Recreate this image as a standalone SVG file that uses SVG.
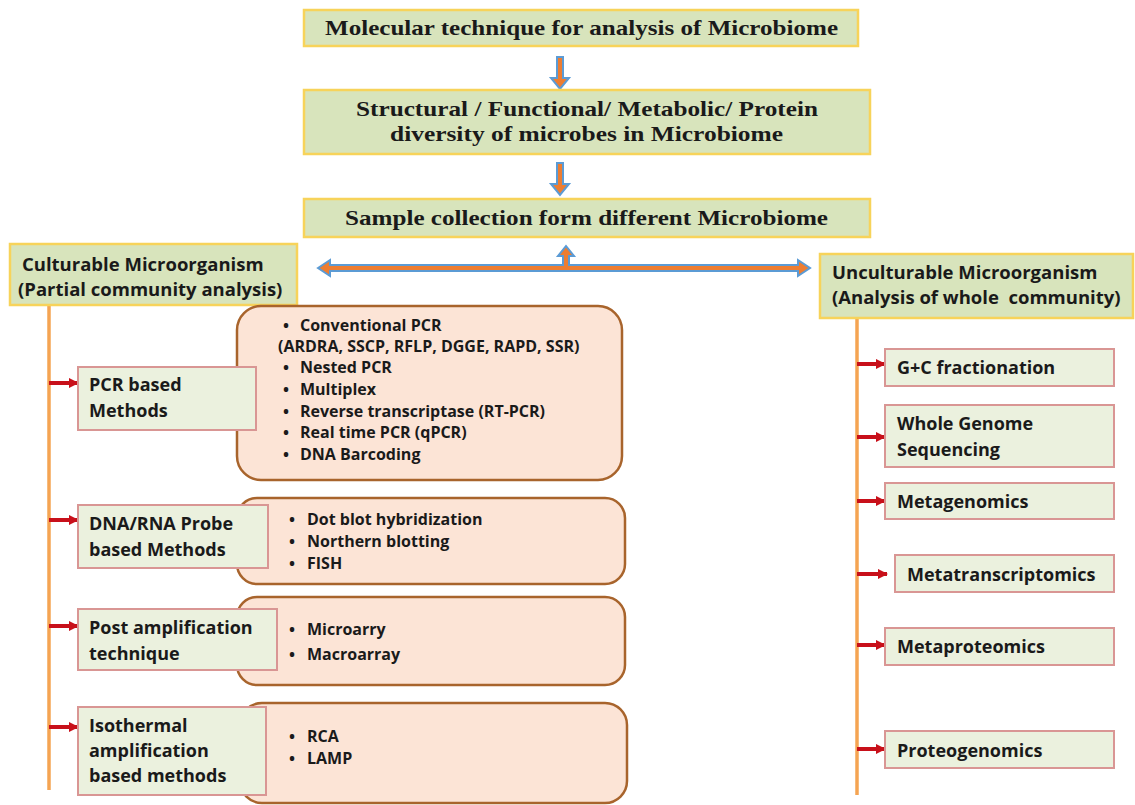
<svg xmlns="http://www.w3.org/2000/svg" width="1135" height="805" viewBox="0 0 1135 805">
<defs>
<style>
.top{fill:#d8e4bc;stroke:#f7d35a;stroke-width:2.5}
.cat{fill:#d8e4bc;stroke:#f7d35a;stroke-width:2.5}
.meth{fill:#ebf1de;stroke:#d99694;stroke-width:2}
.list{fill:#fce4d6;stroke:#a8642c;stroke-width:2.5}
.ttl{font-family:"Liberation Serif",serif;font-weight:bold;font-size:21px;fill:#1a1a1a;text-anchor:middle}
.lbl{font-family:"Open Sans","Liberation Sans",sans-serif;font-weight:bold;font-size:18px;fill:#1a1a1a}
.cl{font-size:18.5px}
.itm{font-family:"Open Sans","Liberation Sans",sans-serif;font-weight:bold;font-size:16px;fill:#1a1a1a}
.trunk{stroke:#f5a452;stroke-width:3.5;fill:none}
.red{stroke:#c8101a;stroke-width:4;fill:none;marker-end:url(#rh)}
.big{fill:#ed7d31;stroke:#5b9bd5;stroke-width:2;stroke-linejoin:miter}
</style>
<marker id="rh" viewBox="0 0 10 10" refX="9" refY="5" markerWidth="2.6" markerHeight="2.6" orient="auto" markerUnits="strokeWidth">
<path d="M0,0 L10,5 L0,10 Z" fill="#c8101a"/>
</marker>
</defs>
<rect width="1135" height="805" fill="#ffffff"/>

<g id="connectors">
<path class="big" d="M557,57 L563,57 L563,78 L569,78 L560,89 L551,78 L557,78 Z"/>
<path class="big" d="M557,163 L563,163 L563,184 L569,184 L560,195 L551,184 L557,184 Z"/>
<path class="big" d="M318,268 L330,260 L330,265 L563,265 L563,256 L558,256 L566,246 L574,256 L569,256 L569,265 L798,265 L798,260 L810,268 L798,276 L798,271 L330,271 L330,276 Z"/>
<line class="trunk" x1="49" y1="305" x2="49" y2="790"/>
<line class="trunk" x1="857" y1="318" x2="857" y2="795"/>
<line class="red" x1="49" y1="383" x2="78" y2="383"/>
<line class="red" x1="49" y1="520" x2="78" y2="520"/>
<line class="red" x1="49" y1="626" x2="78" y2="626"/>
<line class="red" x1="49" y1="727" x2="78" y2="727"/>
<line class="red" x1="857" y1="364" x2="885" y2="364"/>
<line class="red" x1="857" y1="437" x2="885" y2="437"/>
<line class="red" x1="857" y1="501" x2="885" y2="501"/>
<line class="red" x1="857" y1="574" x2="887" y2="574"/>
<line class="red" x1="857" y1="645" x2="885" y2="645"/>
<line class="red" x1="857" y1="749" x2="885" y2="749"/>
</g>

<g id="n-molecular">
<rect class="top" x="304" y="10" width="554" height="36"/>
<text class="ttl" x="581.5" y="35" textLength="513" lengthAdjust="spacingAndGlyphs">Molecular technique for analysis of Microbiome</text>
</g>
<g id="n-diversity">
<rect class="top" x="304" y="90" width="566" height="64"/>
<text class="ttl" x="587" y="116" textLength="462" lengthAdjust="spacingAndGlyphs">Structural / Functional/ Metabolic/ Protein</text>
<text class="ttl" x="586.5" y="141" textLength="393" lengthAdjust="spacingAndGlyphs">diversity of microbes in Microbiome</text>
</g>
<g id="n-sample">
<rect class="top" x="304" y="199" width="566" height="38"/>
<text class="ttl" x="586.5" y="225" textLength="483" lengthAdjust="spacingAndGlyphs">Sample collection form different Microbiome</text>
</g>

<g id="n-culturable">
<rect class="cat" x="10" y="244" width="287" height="61"/>
<text class="lbl cl" x="22" y="271">Culturable Microorganism</text>
<text class="lbl cl" x="18" y="296">(Partial community analysis)</text>
</g>
<g id="n-unculturable">
<rect class="cat" x="820" y="254" width="313" height="64"/>
<text class="lbl cl" x="832" y="279">Unculturable Microorganism</text>
<text class="lbl cl" x="832" y="304" xml:space="preserve">(Analysis of whole  community)</text>
</g>

<g id="n-pcr-list">
<rect class="list" x="237" y="306" width="385" height="174" rx="24"/>
<g class="itm">
<text x="283" y="331">•</text><text x="300" y="331">Conventional PCR</text>
<text x="278" y="352">(ARDRA, SSCP, RFLP, DGGE, RAPD, SSR)</text>
<text x="283" y="373">•</text><text x="300" y="373">Nested PCR</text>
<text x="283" y="395">•</text><text x="300" y="395">Multiplex</text>
<text x="283" y="417">•</text><text x="300" y="417">Reverse transcriptase (RT-PCR)</text>
<text x="283" y="438">•</text><text x="300" y="438">Real time PCR (qPCR)</text>
<text x="283" y="460">•</text><text x="300" y="460">DNA Barcoding</text>
</g>
</g>
<g id="n-pcr">
<rect class="meth" x="78" y="367" width="178" height="63"/>
<text class="lbl" x="89" y="391">PCR based</text>
<text class="lbl" x="89" y="417">Methods</text>
</g>

<g id="n-probe-list">
<rect class="list" x="237" y="498" width="388" height="86" rx="20"/>
<g class="itm">
<text x="289" y="525">•</text><text x="307" y="525">Dot blot hybridization</text>
<text x="289" y="547">•</text><text x="307" y="547">Northern blotting</text>
<text x="289" y="569">•</text><text x="307" y="569">FISH</text>
</g>
</g>
<g id="n-probe">
<rect class="meth" x="78" y="505" width="190" height="63"/>
<text class="lbl" x="89" y="530">DNA/RNA Probe</text>
<text class="lbl" x="89" y="556">based Methods</text>
</g>

<g id="n-post-list">
<rect class="list" x="237" y="597" width="388" height="88" rx="20"/>
<g class="itm">
<text x="289" y="635">•</text><text x="307" y="635">Microarry</text>
<text x="289" y="660">•</text><text x="307" y="660">Macroarray</text>
</g>
</g>
<g id="n-post">
<rect class="meth" x="78" y="609" width="199" height="61"/>
<text class="lbl" x="89" y="634">Post amplification</text>
<text class="lbl" x="89" y="660">technique</text>
</g>

<g id="n-iso-list">
<rect class="list" x="240" y="703" width="387" height="100" rx="22"/>
<g class="itm">
<text x="289" y="742">•</text><text x="307" y="742">RCA</text>
<text x="289" y="764">•</text><text x="307" y="764">LAMP</text>
</g>
</g>
<g id="n-iso">
<rect class="meth" x="78" y="707" width="188" height="88"/>
<text class="lbl" x="89" y="732">Isothermal</text>
<text class="lbl" x="89" y="757">amplification</text>
<text class="lbl" x="89" y="782">based methods</text>
</g>

<g id="n-gc">
<rect class="meth" x="885" y="349" width="229" height="37"/>
<text class="lbl" x="897" y="374">G+C fractionation</text>
</g>
<g id="n-wgs">
<rect class="meth" x="885" y="405" width="229" height="62"/>
<text class="lbl" x="897" y="430">Whole Genome</text>
<text class="lbl" x="897" y="456">Sequencing</text>
</g>
<g id="n-metagenomics">
<rect class="meth" x="885" y="483" width="229" height="36"/>
<text class="lbl" x="897" y="508">Metagenomics</text>
</g>
<g id="n-metatranscriptomics">
<rect class="meth" x="895" y="555" width="219" height="37"/>
<text class="lbl" x="907" y="581">Metatranscriptomics</text>
</g>
<g id="n-metaproteomics">
<rect class="meth" x="885" y="628" width="229" height="37"/>
<text class="lbl" x="897" y="653">Metaproteomics</text>
</g>
<g id="n-proteogenomics">
<rect class="meth" x="885" y="731" width="229" height="37"/>
<text class="lbl" x="897" y="757">Proteogenomics</text>
</g>
</svg>
